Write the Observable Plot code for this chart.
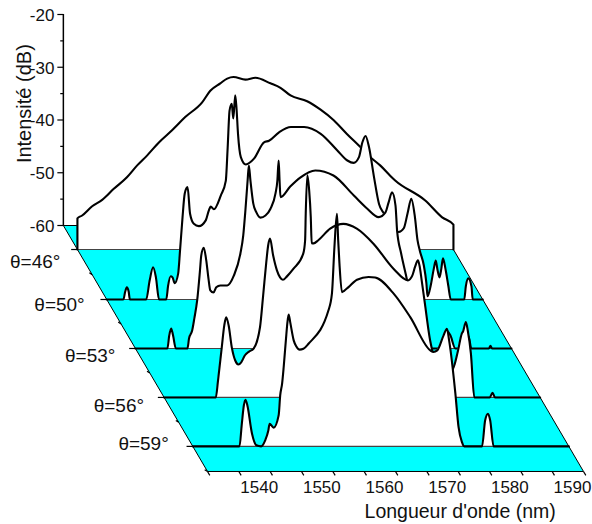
<!DOCTYPE html>
<html>
<head>
<meta charset="utf-8">
<style>html,body{margin:0;padding:0;background:#fff}svg{display:block}</style>
<script src="https://cdn.jsdelivr.net/npm/d3@7"></script>
<script src="https://cdn.jsdelivr.net/npm/@observablehq/plot@0.6"></script>
</head>
<body>
<div id="chart"></div>
<script>
const thetas = [46, 50, 53, 56, 59];
const depths = [0.0976, 0.3008, 0.5, 0.699, 0.898];
const wavelengthTicks = [1540, 1550, 1560, 1570, 1580, 1590];
const wavelengthMinorTicks = [1530, 1535, 1540, 1545, 1550, 1555, 1560, 1565, 1570, 1575, 1580, 1585, 1590];
const intensityTicks = [-20, -30, -40, -50, -60];
const intensityMinorTicks = [-25, -35, -45, -55];
const depthMinorTicks = [0.2, 0.4, 0.6, 0.8, 1];

const spectrum46 = [[1530,-60],[1530,-54.1],[1530.75,-53.55],[1532.35,-51.8],[1533.95,-50.6],[1535.8,-48.5],[1537.9,-46.3],[1539.5,-44.1],[1541.1,-42.2],[1543,-39.7],[1545.1,-37.4],[1547.2,-34.9],[1549.9,-32.1],[1551.2,-29.9],[1552.8,-28.5],[1553.9,-27.6],[1554.9,-27.3],[1556.8,-27.8],[1558.4,-27.45],[1560.8,-28.5],[1562.4,-29.35],[1564,-30.8],[1566.65,-31.9],[1568.8,-33.5],[1570.9,-35.5],[1573,-38.1],[1574.9,-40.3],[1576.75,-42.5],[1578.35,-44.1],[1579.9,-46],[1580.7,-46.9],[1585.5,-50.7],[1588.2,-53.9],[1590,-55.3],[1590,-60]];

const spectrum50 = [[1530,-60],[1532.66,-60],[1532.95,-58.5],[1533.2,-57.7],[1533.5,-58.5],[1533.7,-60],[1536.3,-60],[1536.85,-56.4],[1537.4,-53.9],[1537.85,-55.8],[1538.35,-60],[1539.5,-60],[1539.8,-57.35],[1540.2,-55.6],[1540.5,-55.8],[1540.85,-56.9],[1541.4,-55.1],[1541.7,-50.7],[1542.1,-44.4],[1542.45,-39.9],[1542.9,-38.7],[1543.3,-43.75],[1543.9,-45.65],[1544.7,-46.1],[1545.8,-45],[1546.3,-43.1],[1546.6,-42.4],[1547.1,-42.9],[1548.2,-40.3],[1549,-37.5],[1549.3,-31.2],[1549.6,-24.2],[1549.95,-22.9],[1550.2,-25.7],[1550.5,-21.3],[1550.7,-23.55],[1550.95,-28.6],[1551.4,-33],[1552.2,-34.4],[1553.5,-33.3],[1555.1,-30.2],[1555.9,-29.9],[1557.5,-28.3],[1559.4,-27.3],[1561.5,-27.3],[1564.15,-28.6],[1566.8,-31.75],[1568.4,-33.65],[1569.4,-34.1],[1570.25,-33],[1570.8,-30.2],[1571.3,-29],[1571.85,-31.1],[1572.65,-36.8],[1573.45,-41.9],[1574.25,-43.75],[1575.3,-46.2],[1576.6,-47.2],[1577.4,-46.5],[1578,-43.7],[1578.6,-40.9],[1579.15,-44.1],[1579.6,-48.8],[1579.95,-50.7],[1580.6,-53.55],[1581,-56.8],[1581.2,-59.4],[1581.7,-57.35],[1582.2,-54.1],[1582.5,-52.6],[1582.8,-54.5],[1583.1,-55.8],[1583.4,-54.1],[1583.65,-52.2],[1584.1,-54.5],[1584.5,-57.35],[1584.9,-60],[1587.05,-60],[1587.3,-57.5],[1587.7,-56],[1588.2,-57.5],[1588.4,-60],[1590,-60]];

const spectrum53 = [[1530,-60],[1535.1,-60],[1535.4,-57.5],[1535.7,-56.2],[1536,-57.5],[1536.45,-60],[1538.3,-60],[1538.55,-58.1],[1539.05,-56.6],[1539.4,-54.3],[1539.85,-50.9],[1540.3,-45.2],[1540.5,-42.4],[1540.9,-40.9],[1541.3,-43.3],[1541.65,-46.7],[1541.95,-49],[1542.45,-49.4],[1542.9,-48.4],[1543.55,-48.05],[1544.65,-48.05],[1545.7,-46.2],[1546.75,-42],[1547.2,-38.6],[1547.55,-33.8],[1547.9,-28.15],[1548.1,-25.3],[1548.35,-28.15],[1548.8,-32.5],[1549.3,-34.2],[1549.95,-35.2],[1550.75,-34.8],[1551.55,-33.5],[1552.35,-30.6],[1552.65,-28.15],[1552.85,-24.35],[1553,-28.15],[1553.15,-31.3],[1554.7,-29.3],[1556.3,-27.6],[1558.7,-26.25],[1561.6,-27.2],[1564.85,-31],[1567,-33.5],[1568.8,-35.1],[1569.9,-34.2],[1570.4,-32.3],[1570.95,-30.4],[1571.5,-32.9],[1571.75,-37.6],[1572.4,-42],[1573.35,-47.1],[1574.2,-52.8],[1575.15,-58.5],[1576.3,-60],[1578.35,-60],[1579,-59.4],[1579.6,-56.6],[1580.25,-57.5],[1581.05,-60],[1582.65,-60],[1583.15,-57.7],[1583.6,-60],[1586.4,-60],[1586.65,-59.5],[1586.9,-60],[1590,-60]];

const spectrum56 = [[1530,-60],[1538.25,-60],[1538.6,-56.8],[1539.2,-50.5],[1539.6,-46.35],[1539.9,-44.8],[1540.3,-46.35],[1540.8,-50.5],[1541.35,-53],[1541.85,-53.75],[1542.3,-53.35],[1542.9,-52],[1543.55,-51.3],[1544.25,-50.8],[1545.3,-46.7],[1545.8,-40.7],[1546.3,-34.4],[1546.6,-31.2],[1546.9,-29.9],[1547.4,-33.1],[1548,-35.9],[1548.5,-37.25],[1548.95,-37.7],[1549.6,-37.05],[1550.65,-35.6],[1552.2,-32.75],[1552.5,-30.2],[1552.6,-25.1],[1552.85,-17.9],[1553.15,-20.8],[1553.4,-25.8],[1553.55,-30.75],[1553.85,-30.8],[1554.6,-30.2],[1556.5,-28],[1558.6,-27.1],[1560.75,-28],[1563.4,-30.85],[1566.6,-35.6],[1568.9,-37.8],[1569.6,-36.9],[1570.05,-35.2],[1570.5,-34],[1570.75,-35],[1571.1,-37.8],[1571.65,-42.55],[1572.45,-49.2],[1572.9,-51.5],[1574.35,-53.9],[1575.9,-54.9],[1576.4,-53.55],[1576.9,-51.1],[1577.5,-47.9],[1577.7,-47.5],[1578.15,-45.7],[1578.45,-47.3],[1578.95,-51.65],[1579.5,-60],[1581.95,-60],[1582.4,-59.1],[1582.8,-60],[1590,-60]];

const spectrum59 = [[1530,-60],[1537.45,-60],[1537.8,-56],[1538.15,-52.2],[1538.4,-51.15],[1538.7,-52.2],[1539.45,-57.6],[1540.15,-59.8],[1540.9,-60],[1541.55,-58.85],[1542.05,-57],[1542.25,-55.7],[1542.9,-56.45],[1543.7,-54.1],[1543.95,-50.3],[1544.25,-48.1],[1544.5,-45],[1544.85,-39.9],[1545.1,-36.5],[1545.3,-35],[1545.55,-36.5],[1546.1,-39.9],[1546.5,-41],[1547.05,-41.65],[1547.65,-41.5],[1548.5,-40.5],[1551.65,-34.2],[1552.2,-31.05],[1552.6,-22.2],[1553,-15.9],[1553.2,-20.95],[1553.4,-25.3],[1553.8,-30.75],[1554.15,-30.5],[1554.85,-29.8],[1556.2,-28.4],[1558.05,-27.9],[1559.1,-28],[1562.05,-31.05],[1564.7,-35.5],[1567.9,-41.8],[1568.4,-42.1],[1569,-41.8],[1570,-39],[1570.55,-37.7],[1570.9,-39.9],[1571.9,-50],[1572.4,-56.3],[1572.95,-59.2],[1573.3,-60],[1576.15,-60],[1576.65,-55.05],[1577.1,-53.8],[1577.45,-55.05],[1578,-60],[1590,-60]];

const spectra = [spectrum46, spectrum50, spectrum53, spectrum56, spectrum59];

// Oblique waterfall projection: depth 0 is the back wall (y axis), depth 1 the front edge (x axis).
const shiftNm = 23, dropDb = 46.63;
const sx = (nm, d) => nm + (d - 1) * shiftNm;
const sy = (db, d) => db - dropDb * d;
const left = 1530, right = 1590, floorDb = -60, topDb = -20;

const font = "Liberation Sans, Arial, sans-serif";
const pts = (list) => list.map(([a, b]) => ({a, b}));

const marks = [];
// floor
marks.push(Plot.line(pts([[left, depths[0]], [right, depths[0]], [right, 1], [left, 1], [left, depths[0]]]), {
  x: (p) => sx(p.a, p.b), y: (p) => sy(floorDb, p.b), fill: "#00ffff", stroke: "#000", strokeWidth: 1
}));
// back wedge between the wall and the first spectrum
marks.push(Plot.line([
  {x: sx(left, 0), y: sy(floorDb, 0)},
  {x: sx(left, depths[0]), y: sy(floorDb, 0)},
  {x: sx(left, depths[0]), y: sy(floorDb, depths[0])},
  {x: sx(left, 0), y: sy(floorDb, 0)}
], {x: "x", y: "y", fill: "#00ffff", stroke: "#000", strokeWidth: 1}));

// spectra, back to front
spectra.forEach((s, i) => {
  const d = depths[i];
  const rows = pts(s);
  marks.push(Plot.areaY(rows, {
    x: (p) => sx(p.a, d), y1: () => sy(floorDb, d), y2: (p) => sy(p.b, d), fill: "#fff", curve: "monotone-x"
  }));
  marks.push(Plot.ruleY([sy(floorDb, d)], {x1: sx(left, d), x2: sx(right, d), stroke: "#444", strokeWidth: 1.2}));
  marks.push(Plot.line(rows, {
    x: (p) => sx(p.a, d), y: (p) => sy(p.b, d), stroke: "#000", strokeWidth: 2.1, strokeLinejoin: "round", curve: "monotone-x"
  }));
});

// vertical intensity axis
marks.push(Plot.ruleX([sx(left, 0)], {y1: floorDb, y2: topDb, stroke: "#000", strokeWidth: 1.5}));
marks.push(Plot.link(intensityTicks, {x1: sx(left, 0), x2: sx(left, 0) - 0.96, y1: (v) => v, y2: (v) => v, stroke: "#000", strokeWidth: 1.2}));
marks.push(Plot.link(intensityMinorTicks, {x1: sx(left, 0), x2: sx(left, 0) - 0.5, y1: (v) => v, y2: (v) => v, stroke: "#000", strokeWidth: 1.2}));
marks.push(Plot.text(intensityTicks, {x: sx(left, 0), y: (v) => v, text: (v) => String(v), textAnchor: "end", dx: -9, dy: 1, fontSize: 17, fontFamily: font, fill: "#111"}));

// depth axis ticks
marks.push(Plot.link(depths, {x1: (d) => sx(left, d), x2: (d) => sx(left, d) - 1, y1: (d) => sy(floorDb, d), y2: (d) => sy(floorDb, d), stroke: "#000", strokeWidth: 1.2}));
marks.push(Plot.link(depthMinorTicks, {x1: (d) => sx(left, d), x2: (d) => sx(left, d) - 0.45, y1: (d) => sy(floorDb, d), y2: (d) => sy(floorDb, d) + 0.35, stroke: "#000", strokeWidth: 1.2}));

// wavelength axis ticks
marks.push(Plot.link(wavelengthMinorTicks, {x1: (v) => sx(v, 1), x2: (v) => sx(v, 1.016), y1: sy(floorDb, 1), y2: sy(floorDb, 1.016), stroke: "#000", strokeWidth: 1.2}));
marks.push(Plot.text(wavelengthTicks, {x: (v) => sx(v, 1), y: sy(floorDb, 1), text: (v) => String(v), dx: -11, dy: 16, fontSize: 17, fontFamily: font, fill: "#111"}));

// angle labels
const labelNudge = [[-17, 12], [-22, 5], [-20, 7], [-20, 8], [-24, -2]];
thetas.forEach((t, i) => {
  marks.push(Plot.text([t], {
    x: sx(left, depths[i]), y: sy(floorDb, depths[i]), text: (v) => `θ=${v}°`,
    textAnchor: "end", dx: labelNudge[i][0], dy: labelNudge[i][1], fontSize: 19, fontFamily: font, fill: "#111"
  }));
});

// axis titles
marks.push(Plot.text(["Intensité (dB)"], {x: sx(left, 0), y: -36.9, text: (v) => v, rotate: -90, dx: -39, fontSize: 20, fontFamily: font, fill: "#111"}));
marks.push(Plot.text(["Longueur d'onde (nm)"], {x: sx(1570, 1), y: sy(floorDb, 1), text: (v) => v, dx: 2, dy: 40, fontSize: 19.5, fontFamily: font, fill: "#111"}));

const plot = Plot.plot({
  width: 592,
  height: 524,
  margin: 0,
  x: {type: "linear", domain: [1530 - 207 / 6.267, 1530 + 385 / 6.267], range: [0, 592], axis: null},
  y: {type: "linear", domain: [-60 - 299 / 5.275, -60 + 225 / 5.275], range: [524, 0], axis: null},
  style: {background: "#fff", fontFamily: font},
  marks
});
document.getElementById("chart").appendChild(plot);
</script>
</body>
</html>
